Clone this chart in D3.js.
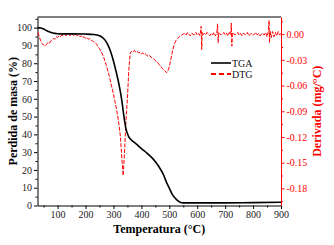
<!DOCTYPE html>
<html>
<head>
<meta charset="utf-8">
<script src="https://cdn.jsdelivr.net/npm/d3@7"></script>
<style>
  body { margin: 0; background: #fff; }
  text { font-family: "Liberation Serif", "Times New Roman", serif; }
</style>
</head>
<body>
<script>
// TGA curve (mass %, left axis)
const tgaTemp = [28, 40, 50, 60, 70, 80, 90, 100, 120, 150, 200, 230, 250, 260, 270, 280, 290, 300, 310, 320,
  330, 335, 340, 345, 350, 355, 360, 370, 380, 400, 420, 440, 460, 480, 490, 500, 510, 520, 530, 540,
  550, 600, 700, 800, 900];
const tgaValue = [100, 99.8, 99.2, 98.4, 97.7, 97.1, 96.8, 96.6, 96.5, 96.5, 96.4, 96.2, 95.5, 94.6, 93.0, 90.3, 86.5, 81.3, 75, 68,
  59, 53, 47.5, 43, 40.5, 38.6, 37.5, 36, 34.8, 32, 29.5, 26.5, 22.5, 17, 13, 9.8, 6.4, 4.3, 2.7, 1.7,
  1.5, 1.5, 1.5, 1.6, 1.8];

// DTG curve (mg/°C, right axis)
const dtgTemp = [30, 35, 40, 45, 50, 55, 60, 65, 70, 75, 80, 85, 90, 95, 100, 105, 110, 115, 120, 125,
  130, 135, 140, 145, 150, 155, 160, 165, 170, 175, 180, 185, 190, 195, 200, 205, 210, 215, 220, 225,
  230, 235, 240, 245, 250, 255, 260, 265, 270, 275, 280, 285, 290, 295, 300, 305, 310, 315, 320, 325,
  330, 335, 340, 345, 350, 355, 360, 365, 370, 375, 380, 385, 390, 395, 400, 405, 410, 415, 420, 425,
  430, 435, 440, 445, 450, 455, 460, 465, 470, 475, 480, 485, 490, 495, 500, 505, 510, 515, 520, 525,
  530, 535, 540, 545, 550, 555, 560, 565, 570, 575, 580, 585, 590, 595, 600, 605, 610, 614, 616, 618,
  620, 625, 630, 635, 640, 645, 650, 655, 660, 665, 670, 673, 675, 677, 680, 685, 690, 695, 700, 705,
  710, 715, 720, 722, 724, 726, 730, 735, 740, 745, 750, 755, 760, 765, 770, 775, 780, 785, 790, 795,
  800, 805, 810, 815, 820, 825, 830, 835, 840, 845, 850, 855, 857, 859, 861, 865, 870, 875, 880, 885,
  890, 895, 900];
const dtgValue = [0.002, -0.004, -0.008, -0.011, -0.013, -0.014, -0.012, -0.010, -0.011, -0.008, -0.007, -0.005, -0.006, -0.003, -0.004, -0.002, -0.003, -0.001, -0.002, 0.000,
  -0.002, -0.001, 0.000, -0.002, 0.001, -0.001, -0.002, 0.000, -0.002, -0.001, -0.003, -0.002, -0.004, -0.003, -0.005, -0.004, -0.006, -0.005, -0.007, -0.008,
  -0.009, -0.010, -0.012, -0.015, -0.017, -0.020, -0.023, -0.027, -0.032, -0.037, -0.043, -0.049, -0.056, -0.063, -0.070, -0.078, -0.086, -0.095, -0.106, -0.120,
  -0.145, -0.165, -0.135, -0.100, -0.075, -0.042, -0.022, -0.020, -0.021, -0.019, -0.021, -0.020, -0.022, -0.021, -0.023, -0.022, -0.024, -0.023, -0.025, -0.026,
  -0.025, -0.027, -0.028, -0.029, -0.031, -0.032, -0.034, -0.036, -0.038, -0.040, -0.042, -0.043, -0.045, -0.043, -0.038, -0.030, -0.022, -0.015, -0.010, -0.007,
  -0.005, -0.003, -0.002, -0.001, 0.000, 0.001, -0.001, 0.002, 0.000, -0.002, 0.001, 0.000, -0.001, 0.002, -0.001, 0.001, -0.002, 0.009, -0.018, 0.002,
  -0.001, 0.001, -0.001, 0.002, 0.000, -0.002, 0.001, -0.001, 0.002, -0.002, 0.001, 0.012, -0.010, 0.002, 0.001, -0.001, 0.000, 0.002, -0.001, 0.001,
  -0.002, 0.002, -0.001, 0.013, -0.014, 0.002, 0.001, -0.001, 0.000, 0.002, -0.001, 0.001, -0.002, 0.001, 0.000, -0.001, 0.002, -0.002, 0.000, 0.001,
  -0.001, 0.000, 0.002, -0.001, 0.001, -0.002, 0.000, 0.001, -0.001, 0.002, -0.003, 0.003, 0.016, -0.010, 0.004, -0.004, 0.003, -0.003, 0.002, -0.002,
  0.003, -0.001, 0.001];

// Tick labels
const xTicks = [100, 200, 300, 400, 500, 600, 700, 800, 900];
const yLeftTicks = [0, 10, 20, 30, 40, 50, 60, 70, 80, 90, 100];
const yRightTicks = [0, -0.03, -0.06, -0.09, -0.12, -0.15, -0.18];
const legendLabels = ["TGA", "DTG"];

const width = 334, height = 245;
const margin = { left: 37.5, right: 53, top: 17, bottom: 39.5 };
const red = "#ff0000";

const svg = d3.select("body").append("svg")
  .attr("width", width)
  .attr("height", height);

// Scales
const x = d3.scaleLinear().domain([28, 900]).range([margin.left, width - margin.right]);
const yL = d3.scaleLinear().domain([0, 106]).range([height - margin.bottom, margin.top]);
const yR = d3.scaleLinear().domain([-0.2, 0.02]).range([height - margin.bottom, margin.top]);

const x0 = margin.left, x1 = width - margin.right;
const y0 = height - margin.bottom, y1 = margin.top;

// Top border
svg.append("line")
  .attr("x1", x0).attr("x2", x1).attr("y1", y1).attr("y2", y1)
  .attr("stroke", "#000").attr("stroke-width", 1.2);

// Minor ticks
const minorX = [50, 150, 250, 350, 450, 550, 650, 750, 850];
svg.append("g")
  .attr("transform", `translate(0,${y0})`)
  .call(d3.axisBottom(x).tickValues(minorX).tickSize(2).tickFormat(""))
  .call(g => g.select(".domain").remove());
svg.append("g")
  .attr("transform", `translate(${x0},0)`)
  .call(d3.axisLeft(yL).tickValues([5, 15, 25, 35, 45, 55, 65, 75, 85, 95, 105]).tickSize(2).tickFormat(""))
  .call(g => g.select(".domain").remove());
svg.append("g")
  .attr("transform", `translate(${x1},0)`)
  .call(d3.axisRight(yR).tickValues([0.015, -0.015, -0.045, -0.075, -0.105, -0.135, -0.165, -0.195]).tickSize(2).tickFormat(""))
  .call(g => g.select(".domain").remove())
  .call(g => g.selectAll("line").attr("stroke", red));

// Bottom axis
const gx = svg.append("g")
  .attr("transform", `translate(0,${y0})`)
  .call(d3.axisBottom(x).tickValues(xTicks).tickSize(3.5).tickPadding(2).tickSizeOuter(0));
gx.selectAll("text").attr("font-size", 10).attr("font-family", "Liberation Serif").attr("fill", "#222");

// Left axis
const gl = svg.append("g")
  .attr("transform", `translate(${x0},0)`)
  .call(d3.axisLeft(yL).tickValues(yLeftTicks).tickSize(3.5).tickPadding(2).tickSizeOuter(0));
gl.selectAll("text").attr("font-size", 10).attr("font-family", "Liberation Serif").attr("fill", "#222");

// Right axis (red)
const gr = svg.append("g")
  .attr("transform", `translate(${x1},0)`)
  .call(d3.axisRight(yR).tickValues(yRightTicks).tickSize(3.5).tickPadding(2).tickSizeOuter(0)
    .tickFormat(d => d3.format(".2f")(d).replace("−", "-")));
gr.select(".domain").attr("stroke", red);
gr.selectAll("line").attr("stroke", red);
gr.selectAll("text").attr("font-size", 10).attr("font-family", "Liberation Serif").attr("fill", red);

// Curves
const lineTGA = d3.line().x((d, i) => x(tgaTemp[i])).y(d => yL(d)).curve(d3.curveMonotoneX);
const lineDTG = d3.line().x((d, i) => x(dtgTemp[i])).y(d => yR(d));

svg.append("path")
  .datum(dtgValue)
  .attr("d", lineDTG)
  .attr("fill", "none")
  .attr("stroke", red)
  .attr("stroke-width", 1)
  .attr("stroke-dasharray", "4,1.5");

svg.append("path")
  .datum(tgaValue)
  .attr("d", lineTGA)
  .attr("fill", "none")
  .attr("stroke", "#000")
  .attr("stroke-width", 1.6);

// Legend
const legend = svg.append("g").attr("transform", "translate(211,63)");
legendLabels.forEach((label, i) => {
  const row = legend.append("g").attr("transform", `translate(0,${i * 11})`);
  row.append("line")
    .attr("x1", 0).attr("x2", 20)
    .attr("stroke", i === 0 ? "#000" : red)
    .attr("stroke-width", i === 0 ? 1.6 : 2)
    .attr("stroke-dasharray", i === 0 ? null : "5,3");
  row.append("text")
    .attr("x", 21).attr("y", 3.5)
    .attr("font-size", 10)
    .attr("fill", "#111")
    .text(label);
});

// Axis titles
svg.append("text")
  .attr("x", (x0 + x1) / 2).attr("y", 233)
  .attr("text-anchor", "middle")
  .attr("font-size", 12).attr("font-weight", "bold")
  .text("Temperatura (°C)");

svg.append("text")
  .attr("transform", `translate(17,${(y0 + y1) / 2}) rotate(-90)`)
  .attr("text-anchor", "middle")
  .attr("font-size", 12).attr("font-weight", "bold")
  .text("Perdida de masa (%)");

svg.append("text")
  .attr("transform", `translate(321,${(y0 + y1) / 2}) rotate(-90)`)
  .attr("text-anchor", "middle")
  .attr("font-size", 12).attr("font-weight", "bold")
  .attr("fill", red)
  .text("Derivada (mg/°C)");
</script>
</body>
</html>
